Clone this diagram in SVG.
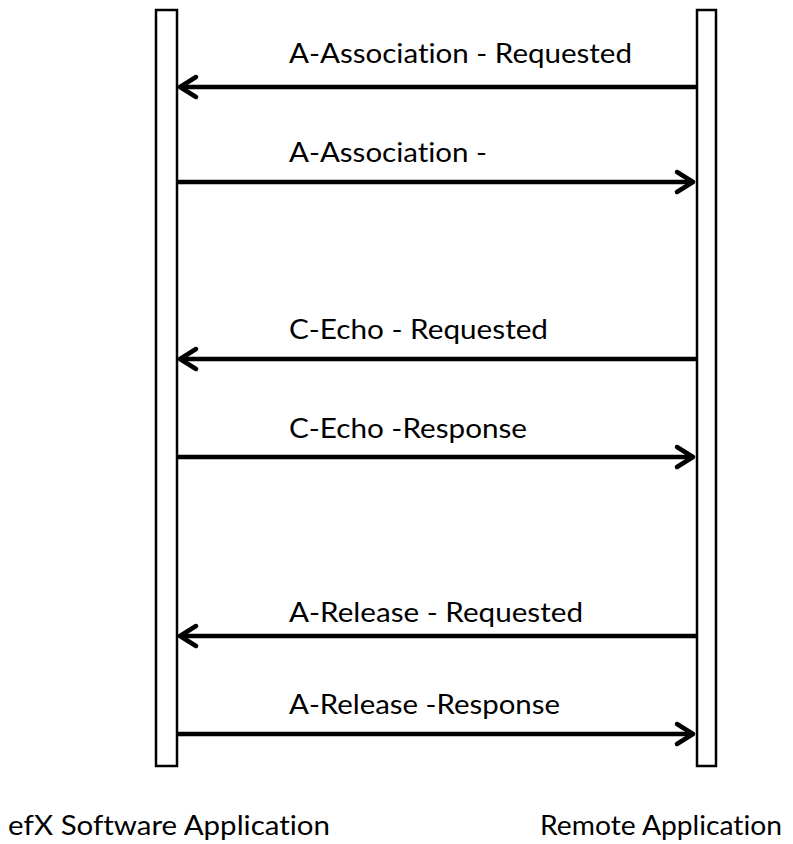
<svg xmlns="http://www.w3.org/2000/svg" width="793" height="844" viewBox="0 0 793 844">
  <style>
    .bar { fill: #ffffff; stroke: #000000; stroke-width: 2.5; }
    .msg { stroke: #000000; stroke-width: 4.5; fill: none; }
    .head { stroke: #000000; stroke-width: 4.5; fill: none; stroke-linecap: round; stroke-linejoin: round; }
    .lbl, .name { font-family: Lato, "Liberation Sans", sans-serif; font-size: 26px; fill: #000000; font-variant-ligatures: none; font-feature-settings: "liga" 0, "dlig" 0; }
  </style>

  <g id="efx-software-application">
    <rect class="bar" x="156" y="10" width="21" height="756"/>
    <text class="name" x="8" y="835" textLength="322" lengthAdjust="spacingAndGlyphs">efX Software Application</text>
  </g>

  <g id="remote-application">
    <rect class="bar" x="697" y="10" width="19" height="756"/>
    <text class="name" x="540" y="835" textLength="242" lengthAdjust="spacingAndGlyphs">Remote Application</text>
  </g>

  <g id="connectors">
    <!-- remote -> efX -->
    <line class="msg" x1="697" y1="87" x2="181" y2="87"/>
    <path class="head" d="M 196 77 L 180 87 L 196 97"/>
    <text class="lbl" x="289" y="63" textLength="343" lengthAdjust="spacingAndGlyphs">A-Association - Requested</text>

    <!-- efX -> remote -->
    <line class="msg" x1="177" y1="182" x2="692" y2="182"/>
    <path class="head" d="M 677 172 L 693 182 L 677 192"/>
    <text class="lbl" x="289" y="162" textLength="198" lengthAdjust="spacingAndGlyphs">A-Association -</text>

    <line class="msg" x1="697" y1="359" x2="181" y2="359"/>
    <path class="head" d="M 196 349 L 180 359 L 196 369"/>
    <text class="lbl" x="289" y="339" textLength="259" lengthAdjust="spacingAndGlyphs">C-Echo - Requested</text>

    <line class="msg" x1="177" y1="457" x2="692" y2="457"/>
    <path class="head" d="M 677 447 L 693 457 L 677 467"/>
    <text class="lbl" x="289" y="438" textLength="238" lengthAdjust="spacingAndGlyphs">C-Echo -Response</text>

    <line class="msg" x1="697" y1="636" x2="181" y2="636"/>
    <path class="head" d="M 196 626 L 180 636 L 196 646"/>
    <text class="lbl" x="289" y="622" textLength="294" lengthAdjust="spacingAndGlyphs">A-Release - Requested</text>

    <line class="msg" x1="177" y1="734" x2="692" y2="734"/>
    <path class="head" d="M 677 724 L 693 734 L 677 744"/>
    <text class="lbl" x="289" y="714" textLength="271" lengthAdjust="spacingAndGlyphs">A-Release -Response</text>
  </g>
</svg>
